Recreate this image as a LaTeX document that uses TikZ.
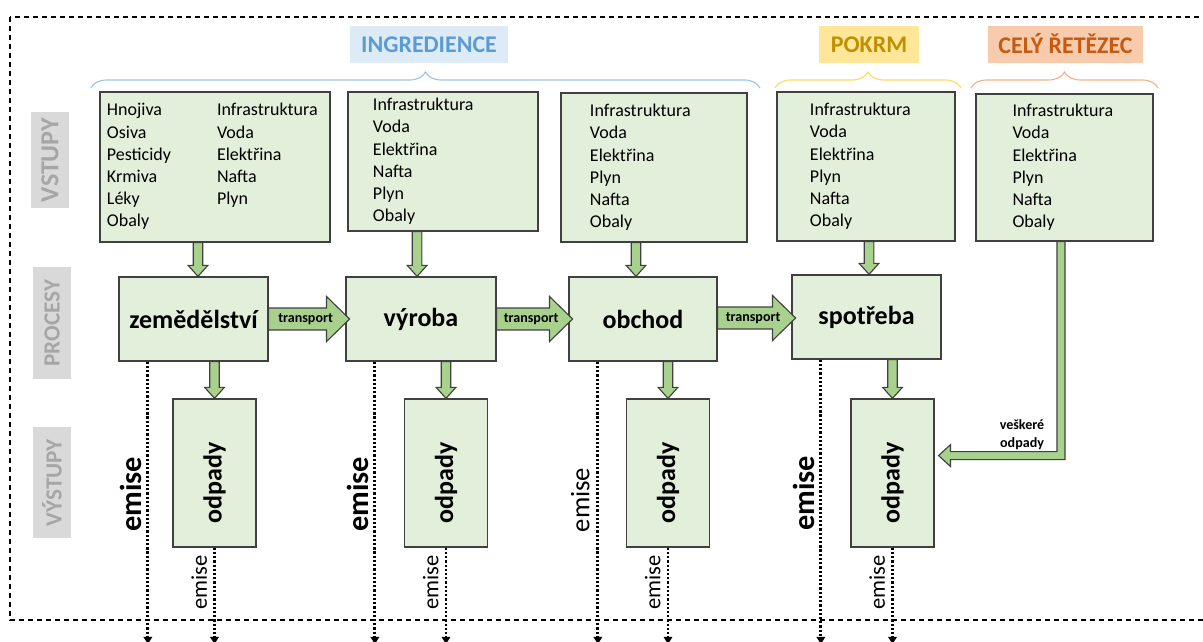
\documentclass[tikz,border=0pt]{standalone}
\usepackage{fontspec}
\setmainfont{Carlito}
\usetikzlibrary{arrows.meta,calc,decorations.pathreplacing}

\definecolor{boxfill}{HTML}{E2EFDA}
\definecolor{boxline}{HTML}{404040}
\definecolor{arrfill}{HTML}{A9D18E}
\definecolor{sidefill}{HTML}{D9D9D9}
\definecolor{sidetext}{HTML}{A6A6A6}
\definecolor{ingrfill}{HTML}{DDEBF7}
\definecolor{ingrtext}{HTML}{5B9BD5}
\definecolor{ingrbrace}{HTML}{9DC3E6}
\definecolor{pokrfill}{HTML}{FFE699}
\definecolor{pokrtext}{HTML}{BF9000}
\definecolor{pokrbrace}{HTML}{FFD966}
\definecolor{retfill}{HTML}{F8CBAD}
\definecolor{rettext}{HTML}{C55A11}
\definecolor{retbrace}{HTML}{F4B183}

% green block arrow going down, #1 = shift of the tip, #3 = target anchor
\newcommand\gdown[3]{%
  \filldraw[garrow] let \p1=(#2.south), \p2=([xshift=#1]#3) in
    (\x2-3.4pt,\y1) -- (\x2+3.4pt,\y1) -- (\x2+3.4pt,\y2+7.8pt) -- (\x2+7pt,\y2+7.8pt)
    -- (\x2,\y2) -- (\x2-7pt,\y2+7.8pt) -- (\x2-3.4pt,\y2+7.8pt) -- cycle;}
% green block arrow to the right with the transport label
\newcommand\gright[2]{%
  \filldraw[garrow] let \p1=(#1.east), \p2=(#2.west), \p3=($(#1.east)!.5!(#2.west)$) in
    (\x1,\y3-7.8pt) -- (\x2-13.4pt,\y3-7.8pt) -- (\x2-13.4pt,\y3-16pt) -- (\x2+3pt,\y3)
    -- (\x2-13.4pt,\y3+16pt) -- (\x2-13.4pt,\y3+7.8pt) -- (\x1,\y3+7.8pt) -- cycle
    node[translab] at ({(\x1+\x2)/2-1pt},\y3) {transport};}

\begin{document}
\begin{tikzpicture}
  [x=0.025cm,y=-0.025cm,every node/.style={inner sep=0pt}]
  \tikzstyle{gbox} = [draw=boxline,fill=boxfill,line width=0.9pt]
  \tikzstyle{inbox} = [gbox,align=left,font=\fontsize{12.8}{15.8}\selectfont]
  \tikzstyle{procbox} = [gbox,minimum height=2.1cm,font=\bfseries\fontsize{18.5}{22}\selectfont]
  \tikzstyle{odpbox} = [gbox,rotate=90,minimum width=3.7cm,minimum height=2.075cm,font=\bfseries\fontsize{18.5}{22}\selectfont]
  \tikzstyle{head} = [minimum height=0.925cm,font=\bfseries\fontsize{17}{20}\selectfont]
  \tikzstyle{sidelab} = [rotate=90,fill=sidefill,text=sidetext,minimum height=0.95cm,font=\bfseries\fontsize{16.5}{18}\selectfont]
  \tikzstyle{garrow} = [draw=boxline,fill=arrfill,line width=0.8pt]
  \tikzstyle{translab} = [font=\bfseries\fontsize{10}{12}\selectfont]
  \tikzstyle{wastelab} = [anchor=south,align=center,font=\bfseries\fontsize{10}{12.8}\selectfont]
  \tikzstyle{emis} = [line width=2pt,dash pattern=on 1.6pt off 1.4pt,-{Triangle[width=6pt,length=5pt]}]
  \tikzstyle{bigemis} = [rotate=90,anchor=south,inner sep=3.5pt,font=\bfseries\fontsize{21.6}{24}\selectfont]
  \tikzstyle{midemis} = [rotate=90,anchor=south,inner sep=5pt,font=\fontsize{19}{22}\selectfont]
  \tikzstyle{smallemis} = [rotate=90,anchor=south,inner sep=4.3pt,font=\fontsize{16}{18}\selectfont]
  \tikzstyle{brc} = [line width=0.8pt,decorate,decoration={brace,amplitude=11.4pt}]

  \useasboundingbox (0,0) rectangle (1203,641);
  \draw[line width=1pt,dash pattern=on 3.6pt off 2.8pt] (10,17) rectangle (1230,620);

  % headers and braces
  \node[head,fill=ingrfill,text=ingrtext,minimum width=3.95cm] (ingr) at (429,44.5) {INGREDIENCE};
  \node[head,fill=pokrfill,text=pokrtext,minimum width=2.5cm] (pokrm) at (869,44.5) {POKRM};
  \node[head,fill=retfill,text=rettext,minimum width=3.875cm] (retez) at (1065.5,44) {CELÝ ŘETĚZEC};
  \draw[brc,ingrbrace] (91,88) -- (760,88);
  \draw[brc,pokrbrace] (775,88) -- (961,88);
  \draw[brc,retbrace] (971,88) -- (1158,88);

  % row labels
  \node[sidelab,minimum width=2.4cm,font=\bfseries\fontsize{18.5}{20}\selectfont] (lvstupy) at (50,160) {VSTUPY};
  \node[sidelab,minimum width=2.8cm] (lprocesy) at (52,323) {PROCESY};
  \node[sidelab,minimum width=2.775cm] (lvystupy) at (52,482.5) {VÝSTUPY};

  % inputs
  \node[inbox,text width=5.4cm,inner xsep=0.175cm,minimum width=5.75cm,minimum height=3.75cm] (vstup1) at (215,167)
    {\begin{tabular}{@{}p{2.75cm}@{}l@{}}
      Hnojiva & Infrastruktura\\ Osiva & Voda\\ Pesticidy & Elektřina\\
      Krmiva & Nafta\\ Léky & Plyn\\ Obaly & \end{tabular}};
  \node[inbox,text width=3.5cm,inner xsep=0.625cm,minimum width=4.75cm,minimum height=3.475cm] (vstup2) at (443,161.5)
    {Infrastruktura\\Voda\\Elektřina\\Nafta\\Plyn\\Obaly};
  \node[inbox,text width=3.2cm,inner xsep=0.725cm,minimum width=4.65cm,minimum height=3.725cm] (vstup3) at (654,167.5)
    {Infrastruktura\\Voda\\Elektřina\\Plyn\\Nafta\\Obaly};
  \node[inbox,text width=2.8cm,inner xsep=0.825cm,minimum width=4.45cm,minimum height=3.725cm] (vstup4) at (866,166.5)
    {Infrastruktura\\Voda\\Elektřina\\Plyn\\Nafta\\Obaly};
  \node[inbox,text width=2.6cm,inner xsep=0.9125cm,minimum width=4.425cm,minimum height=3.675cm] (vstup5) at (1064.5,167.5)
    {Infrastruktura\\Voda\\Elektřina\\Plyn\\Nafta\\Obaly};

  % processes
  \node[procbox,minimum width=3.725cm] (zem) at (193.5,319) {zemědělství};
  \node[procbox,minimum width=3.75cm] (vyroba) at (421,319) {výroba};
  \node[procbox,minimum width=3.7cm] (obchod) at (643,319) {obchod};
  \node[procbox,minimum width=3.725cm] (spotreba) at (866.5,317) {spotřeba};

  % outputs (rotated: east is the top, west the bottom, south the right side)
  \node[odpbox] (odp1) at (214.5,473) {odpady\hspace*{13.5pt}};
  \node[odpbox] (odp2) at (446,473) {odpady\hspace*{13.5pt}};
  \node[odpbox] (odp3) at (668,473) {odpady\hspace*{13.5pt}};
  \node[odpbox] (odp4) at (892.5,473) {odpady\hspace*{13.5pt}};

  % green arrows
  \foreach \src/\dst/\sh in {vstup1/zem/3.2pt,vstup2/vyroba/-2.8pt,vstup3/obchod/-5pt,vstup4/spotreba/1.8pt}
    {\gdown{\sh}{\src}{\dst.north}}
  \foreach \src/\dst in {zem/odp1,vyroba/odp2,obchod/odp3,spotreba/odp4}
    {\gdown{0pt}{\src}{\dst.east}}
  \foreach \src/\dst in {zem/vyroba,vyroba/obchod,obchod/spotreba}
    {\gright{\src}{\dst}}
  \filldraw[garrow] let \p1=([xshift=-2.5pt]vstup5.south), \p2=([xshift=2.8pt]odp4.south),
      \p3=([yshift=12.4pt]odp4.south) in
    (\x1-2.85pt,\y1) -- (\x1+2.85pt,\y1) -- (\x1+2.85pt,\y3-2.85pt) -- (\x2+8.5pt,\y3-2.85pt)
    -- (\x2+8.5pt,\y3-7.8pt) -- (\x2,\y3) -- (\x2+8.5pt,\y3+7.8pt) -- (\x2+8.5pt,\y3+2.85pt)
    -- (\x1-2.85pt,\y3+2.85pt) -- cycle
    node[wastelab] at (\x1-27.7pt,\y3+4pt) {veškeré\\odpady};

  % emissions
  \coordinate (bot) at (0,644);
  \foreach \proc in {zem,vyroba,obchod,spotreba}
    \coordinate (e\proc) at ([xshift=21pt]\proc.south west);
  \foreach \proc in {zem,vyroba,spotreba}
    \draw[emis] (e\proc) -- (e\proc |- bot) node[pos=.47,bigemis] {emise};
  \draw[emis] (eobchod) -- (eobchod |- bot) node[pos=.49,midemis] {emise};
  \foreach \o in {odp1,odp2,odp3,odp4}
    \draw[emis] (\o.west) -- (\o.west |- bot) node[pos=.36,smallemis] {emise};
\end{tikzpicture}
\end{document}
